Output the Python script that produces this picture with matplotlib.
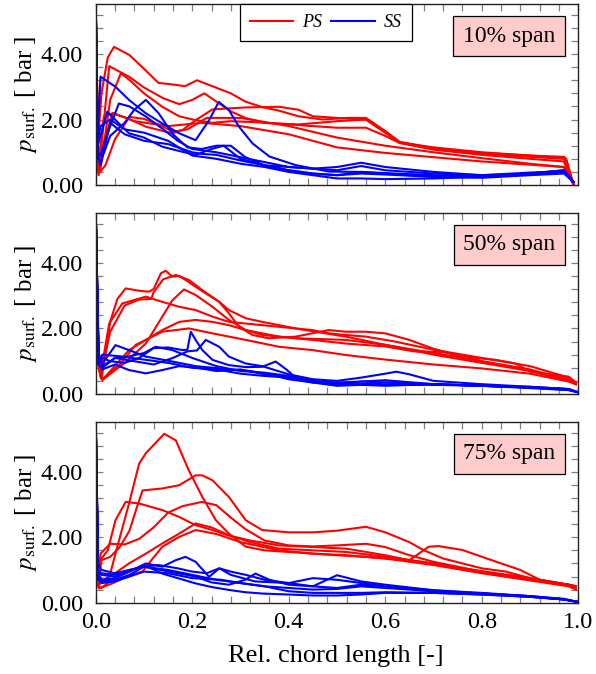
import matplotlib
matplotlib.use("Agg")
import matplotlib.pyplot as plt
from matplotlib.ticker import MultipleLocator
from matplotlib.lines import Line2D

plt.rcParams['font.family'] = ['Liberation Serif', 'DejaVu Serif']
plt.rcParams['mathtext.fontset'] = 'stix'

# ---------------- data ----------------
span_labels = ["10% span", "50% span", "75% span"]
series_names = ["PS", "SS"]
x_tick_labels = ["0.0", "0.2", "0.4", "0.6", "0.8", "1.0"]
y_tick_labels = ["0.00", "2.00", "4.00"]

# 10% span, pressure side
PS10_1 = ([0, 0.004, 0.012, 0.025, 0.038, 0.07, 0.1, 0.13, 0.16, 0.185, 0.21, 0.245, 0.28, 0.31, 0.345, 0.38, 0.42, 0.47, 0.52, 0.56, 0.6, 0.63, 0.7, 0.8, 0.9, 0.97, 0.975, 0.99],
          [5.6, 1.2, 2.8, 3.9, 4.22, 3.97, 3.55, 3.12, 3.07, 3.02, 3.2, 3.0, 2.8, 2.55, 2.38, 2.27, 2.1, 2.0, 2.05, 2.05, 1.65, 1.32, 1.12, 0.98, 0.9, 0.86, 0.8, 0.02])
PS10_2 = ([0, 0.005, 0.012, 0.028, 0.07, 0.1, 0.14, 0.173, 0.2, 0.225, 0.25, 0.28, 0.31, 0.35, 0.42, 0.5, 0.56, 0.6, 0.63, 0.7, 0.8, 0.9, 0.97, 0.975, 0.99],
          [5.6, 0.8, 1.2, 3.63, 3.3, 2.98, 2.65, 2.47, 2.6, 2.8, 2.55, 2.25, 2.05, 1.9, 1.85, 1.95, 2.0, 1.6, 1.3, 1.1, 0.95, 0.86, 0.8, 0.75, 0.02])
PS10_3 = ([0, 0.005, 0.01, 0.03, 0.052, 0.07, 0.1, 0.138, 0.173, 0.207, 0.242, 0.28, 0.33, 0.4, 0.45, 0.5, 0.56, 0.6, 0.63, 0.7, 0.8, 0.9, 0.97, 0.99],
          [5.6, 0.4, 0.5, 2.6, 3.41, 3.21, 2.8, 2.39, 2.1, 1.98, 1.9, 1.95, 1.92, 1.85, 1.8, 1.75, 1.75, 1.5, 1.28, 1.08, 0.92, 0.8, 0.72, 0.02])
PS10_4 = ([0, 0.005, 0.017, 0.035, 0.066, 0.104, 0.159, 0.18, 0.207, 0.242, 0.311, 0.38, 0.42, 0.45, 0.5, 0.56, 0.6, 0.63, 0.7, 0.8, 0.9, 0.97, 0.99],
          [5.6, 0.5, 2.09, 2.19, 2.04, 1.78, 1.58, 1.68, 1.98, 2.31, 2.37, 2.39, 2.3, 2.1, 2.05, 2.0, 1.6, 1.3, 1.15, 1.0, 0.9, 0.82, 0.02])
PS10_5 = ([0, 0.006, 0.012, 0.02, 0.04, 0.07, 0.1, 0.13, 0.16, 0.19, 0.23, 0.3, 0.4, 0.5, 0.6, 0.7, 0.8, 0.9, 0.97, 0.99],
          [5.6, 0.35, 0.45, 0.6, 1.4, 2.08, 2.02, 1.85, 1.63, 1.7, 2.05, 2.05, 1.8, 1.45, 1.2, 1.0, 0.82, 0.65, 0.55, 0.02])
PS10_6 = ([0, 0.006, 0.015, 0.035, 0.08, 0.15, 0.22, 0.3, 0.4, 0.5, 0.6, 0.7, 0.8, 0.9, 0.97, 0.99],
          [5.6, 0.3, 1.2, 2.2, 1.95, 1.8, 1.9, 1.8, 1.55, 1.15, 0.98, 0.85, 0.72, 0.62, 0.55, 0.02])

# 10% span, suction side
SS10_1 = ([0, 0.004, 0.01, 0.041, 0.069, 0.104, 0.138, 0.173, 0.207, 0.235, 0.255, 0.276, 0.297, 0.325, 0.36, 0.414, 0.483, 0.55, 0.62, 0.7, 0.8, 0.9, 0.97, 0.99],
          [5.6, 1.5, 3.31, 3.0, 2.6, 2.19, 1.88, 1.58, 1.37, 1.98, 2.54, 2.29, 1.78, 1.27, 0.87, 0.61, 0.41, 0.4, 0.35, 0.3, 0.28, 0.35, 0.4, 0.1])
SS10_2 = ([0, 0.004, 0.01, 0.03, 0.048, 0.07, 0.104, 0.14, 0.17, 0.2, 0.25, 0.3, 0.35, 0.4, 0.45, 0.5, 0.55, 0.6, 0.7, 0.8, 0.9, 0.97, 0.99],
          [5.6, 1.0, 0.9, 1.8, 2.49, 2.4, 2.09, 1.7, 1.35, 1.1, 1.0, 0.85, 0.7, 0.55, 0.5, 0.55, 0.68, 0.55, 0.4, 0.3, 0.35, 0.45, 0.1])
SS10_3 = ([0, 0.004, 0.01, 0.03, 0.06, 0.08, 0.104, 0.13, 0.16, 0.19, 0.22, 0.25, 0.28, 0.31, 0.35, 0.4, 0.45, 0.5, 0.55, 0.6, 0.7, 0.8, 0.9, 0.97, 0.99],
          [5.6, 0.8, 0.7, 1.5, 1.9, 2.3, 2.6, 2.2, 1.55, 1.15, 1.1, 1.2, 1.2, 0.85, 0.6, 0.45, 0.35, 0.3, 0.35, 0.32, 0.25, 0.28, 0.35, 0.4, 0.1])
SS10_4 = ([0, 0.004, 0.012, 0.024, 0.04, 0.069, 0.1, 0.138, 0.17, 0.207, 0.24, 0.265, 0.3, 0.35, 0.4, 0.45, 0.5, 0.55, 0.6, 0.7, 0.8, 0.9, 0.97, 0.99],
          [5.6, 1.2, 1.6, 2.24, 2.0, 1.58, 1.45, 1.17, 1.05, 0.92, 1.1, 1.2, 0.8, 0.6, 0.45, 0.35, 0.3, 0.4, 0.35, 0.25, 0.22, 0.3, 0.35, 0.1])
SS10_5 = ([0, 0.004, 0.01, 0.03, 0.06, 0.1, 0.15, 0.2, 0.25, 0.3, 0.35, 0.4, 0.45, 0.5, 0.55, 0.6, 0.7, 0.8, 0.9, 0.97, 0.99],
          [5.6, 1.3, 1.8, 2.0, 1.7, 1.6, 1.35, 0.9, 0.8, 0.65, 0.55, 0.4, 0.3, 0.2, 0.2, 0.18, 0.2, 0.25, 0.35, 0.45, 0.1])
SS10_6 = ([0, 0.004, 0.01, 0.03, 0.06, 0.1, 0.15, 0.2, 0.22, 0.25, 0.3, 0.35, 0.4, 0.5, 0.55, 0.6, 0.7, 0.8, 0.9, 0.97, 0.99],
          [5.6, 1.0, 0.6, 1.9, 1.55, 1.35, 1.25, 1.0, 0.95, 0.92, 0.75, 0.6, 0.55, 0.45, 0.58, 0.45, 0.35, 0.3, 0.38, 0.42, 0.1])

# 50% span, pressure side
PS50_1 = ([0, 0.006, 0.012, 0.03, 0.045, 0.062, 0.09, 0.11, 0.12, 0.135, 0.145, 0.159, 0.173, 0.186, 0.207, 0.228, 0.256, 0.276, 0.311, 0.345, 0.38, 0.414, 0.449, 0.483, 0.518, 0.56, 0.62, 0.7, 0.8, 0.9, 0.98, 0.995],
          [5.6, 0.8, 0.45, 2.2, 2.9, 3.22, 3.15, 3.12, 3.2, 3.68, 3.76, 3.58, 3.6, 3.48, 3.27, 3.07, 2.81, 2.56, 2.31, 2.2, 2.1, 2.0, 1.95, 1.85, 1.8, 1.75, 1.6, 1.35, 1.1, 0.85, 0.5, 0.35])
PS50_2 = ([0, 0.006, 0.01, 0.03, 0.06, 0.09, 0.115, 0.12, 0.14, 0.166, 0.193, 0.221, 0.256, 0.276, 0.297, 0.325, 0.359, 0.414, 0.483, 0.518, 0.56, 0.6, 0.65, 0.7, 0.76, 0.83, 0.87, 0.9, 0.98, 0.995],
          [5.6, 0.9, 0.5, 1.9, 2.7, 2.88, 2.9, 3.1, 3.5, 3.63, 3.48, 3.17, 2.81, 2.46, 2.05, 1.8, 1.7, 1.75, 1.95, 1.9, 1.9, 1.85, 1.65, 1.38, 1.14, 1.04, 0.93, 0.68, 0.53, 0.35])
PS50_3 = ([0, 0.006, 0.014, 0.06, 0.104, 0.138, 0.159, 0.183, 0.207, 0.242, 0.276, 0.311, 0.345, 0.38, 0.449, 0.518, 0.6, 0.66, 0.72, 0.8, 0.9, 0.98, 0.995],
          [5.6, 1.0, 0.43, 0.95, 1.54, 2.36, 2.86, 3.19, 3.02, 2.66, 2.26, 1.95, 1.85, 1.75, 1.65, 1.54, 1.45, 1.3, 1.28, 1.0, 0.72, 0.45, 0.3])
PS50_4 = ([0, 0.006, 0.01, 0.028, 0.055, 0.104, 0.138, 0.173, 0.207, 0.242, 0.276, 0.345, 0.414, 0.518, 0.6, 0.7, 0.8, 0.9, 0.98, 0.995],
          [5.6, 1.0, 0.6, 2.15, 2.76, 2.97, 2.81, 2.66, 2.56, 2.36, 2.2, 2.1, 2.0, 1.75, 1.5, 1.25, 1.0, 0.75, 0.42, 0.3])
PS50_5 = ([0, 0.006, 0.014, 0.069, 0.104, 0.138, 0.173, 0.207, 0.242, 0.276, 0.345, 0.414, 0.518, 0.6, 0.7, 0.8, 0.9, 0.98, 0.995],
          [5.6, 0.9, 0.43, 1.34, 1.65, 1.95, 2.2, 2.26, 2.2, 2.1, 1.8, 1.7, 1.65, 1.5, 1.2, 0.95, 0.7, 0.4, 0.3])
PS50_6 = ([0, 0.006, 0.014, 0.05, 0.083, 0.138, 0.193, 0.242, 0.311, 0.38, 0.449, 0.518, 0.6, 0.7, 0.8, 0.9, 0.98, 0.995],
          [5.6, 0.9, 0.45, 0.9, 1.5, 1.9, 2.0, 1.85, 1.65, 1.44, 1.34, 1.19, 1.05, 0.9, 0.78, 0.62, 0.38, 0.3])

# 50% span, suction side
SS50_1 = ([0, 0.006, 0.014, 0.03, 0.06, 0.09, 0.12, 0.15, 0.18, 0.19, 0.197, 0.207, 0.221, 0.242, 0.276, 0.311, 0.345, 0.373, 0.395, 0.414, 0.449, 0.5, 0.55, 0.6, 0.7, 0.8, 0.9, 0.98, 1.0],
          [5.6, 1.0, 1.1, 1.0, 0.95, 1.1, 1.4, 1.42, 1.34, 1.35, 1.9, 1.65, 1.34, 1.04, 0.88, 0.82, 0.83, 0.99, 0.75, 0.5, 0.4, 0.35, 0.38, 0.42, 0.3, 0.25, 0.22, 0.15, 0.05])
SS50_2 = ([0, 0.006, 0.014, 0.04, 0.08, 0.12, 0.16, 0.19, 0.21, 0.228, 0.256, 0.276, 0.311, 0.345, 0.4, 0.45, 0.5, 0.55, 0.6, 0.623, 0.65, 0.7, 0.8, 0.9, 0.98, 1.0],
          [5.6, 0.9, 0.8, 1.1, 1.0, 0.9, 1.1, 1.3, 1.33, 1.65, 1.44, 1.14, 0.93, 0.85, 0.6, 0.45, 0.4, 0.5, 0.62, 0.68, 0.6, 0.4, 0.3, 0.22, 0.15, 0.05])
SS50_3 = ([0, 0.006, 0.014, 0.041, 0.069, 0.104, 0.138, 0.173, 0.207, 0.242, 0.28, 0.32, 0.36, 0.4, 0.45, 0.5, 0.55, 0.6, 0.7, 0.8, 0.9, 0.98, 1.0],
          [5.6, 1.2, 0.93, 1.49, 1.34, 1.14, 1.05, 0.95, 0.85, 0.8, 0.75, 0.7, 0.6, 0.45, 0.35, 0.3, 0.38, 0.35, 0.3, 0.25, 0.2, 0.15, 0.05])
SS50_4 = ([0, 0.006, 0.014, 0.04, 0.07, 0.1, 0.124, 0.159, 0.2, 0.25, 0.3, 0.35, 0.4, 0.45, 0.5, 0.55, 0.6, 0.7, 0.8, 0.9, 0.98, 1.0],
          [5.6, 1.1, 0.85, 1.1, 1.15, 1.25, 1.44, 1.34, 1.1, 0.85, 0.7, 0.65, 0.55, 0.4, 0.3, 0.3, 0.35, 0.3, 0.25, 0.18, 0.12, 0.05])
SS50_5 = ([0, 0.006, 0.014, 0.04, 0.069, 0.104, 0.138, 0.173, 0.21, 0.25, 0.3, 0.35, 0.4, 0.45, 0.5, 0.55, 0.6, 0.7, 0.8, 0.9, 0.98, 1.0],
          [5.6, 0.9, 0.75, 0.9, 0.73, 0.63, 0.73, 0.85, 0.8, 0.7, 0.75, 0.6, 0.5, 0.35, 0.25, 0.28, 0.25, 0.3, 0.25, 0.2, 0.12, 0.05])
SS50_6 = ([0, 0.006, 0.014, 0.05, 0.1, 0.15, 0.2, 0.25, 0.3, 0.35, 0.4, 0.45, 0.5, 0.6, 0.7, 0.8, 0.9, 0.98, 1.0],
          [5.6, 1.0, 1.2, 1.15, 1.05, 0.95, 0.8, 0.75, 0.62, 0.55, 0.5, 0.4, 0.3, 0.28, 0.28, 0.25, 0.2, 0.14, 0.05])

# 75% span, pressure side
PS75_1 = ([0, 0.005, 0.012, 0.025, 0.041, 0.069, 0.09, 0.104, 0.124, 0.142, 0.166, 0.193, 0.221, 0.249, 0.276, 0.311, 0.35, 0.4, 0.45, 0.5, 0.56, 0.6, 0.65, 0.7, 0.76, 0.83, 0.88, 0.92, 0.98, 0.995],
          [5.6, 0.5, 0.45, 0.6, 1.5, 3.03, 4.25, 4.57, 4.88, 5.16, 4.96, 4.04, 3.23, 2.52, 2.11, 1.71, 1.6, 1.55, 1.5, 1.45, 1.4, 1.35, 1.3, 1.2, 1.05, 0.9, 0.8, 0.7, 0.55, 0.5])
PS75_2 = ([0, 0.005, 0.012, 0.03, 0.05, 0.07, 0.085, 0.097, 0.138, 0.173, 0.207, 0.221, 0.242, 0.276, 0.311, 0.345, 0.4, 0.45, 0.5, 0.56, 0.6, 0.65, 0.68, 0.72, 0.76, 0.8, 0.85, 0.9, 0.98, 0.995],
          [5.6, 0.6, 1.3, 1.4, 1.7, 2.2, 2.9, 3.43, 3.49, 3.59, 3.89, 3.89, 3.74, 3.23, 2.52, 2.22, 2.15, 2.15, 2.2, 2.32, 2.15, 1.85, 1.6, 1.35, 1.2, 1.05, 0.95, 0.75, 0.55, 0.5])
PS75_3 = ([0, 0.005, 0.012, 0.025, 0.041, 0.062, 0.09, 0.138, 0.173, 0.207, 0.242, 0.276, 0.32, 0.38, 0.45, 0.52, 0.6, 0.65, 0.69, 0.71, 0.76, 0.83, 0.88, 0.92, 0.98, 0.995],
          [5.6, 0.8, 1.35, 1.6, 2.52, 3.08, 3.03, 2.83, 2.62, 2.37, 2.22, 2.05, 1.9, 1.75, 1.7, 1.65, 1.45, 1.3, 1.71, 1.73, 1.61, 1.25, 1.0, 0.7, 0.55, 0.5])
PS75_4 = ([0, 0.005, 0.01, 0.03, 0.06, 0.09, 0.12, 0.15, 0.18, 0.22, 0.25, 0.28, 0.31, 0.35, 0.4, 0.45, 0.5, 0.56, 0.6, 0.65, 0.7, 0.8, 0.9, 0.98, 0.995],
          [5.6, 0.7, 1.5, 1.8, 1.78, 1.95, 2.3, 2.75, 2.95, 3.08, 2.98, 2.6, 2.25, 1.9, 1.75, 1.72, 1.75, 1.8, 1.7, 1.45, 1.25, 0.95, 0.7, 0.55, 0.5])
PS75_5 = ([0, 0.005, 0.014, 0.04, 0.069, 0.104, 0.138, 0.173, 0.207, 0.24, 0.276, 0.32, 0.38, 0.45, 0.52, 0.6, 0.7, 0.8, 0.9, 0.98, 0.995],
          [5.6, 0.5, 0.69, 0.9, 1.2, 1.5, 1.81, 2.11, 2.42, 2.3, 2.06, 1.85, 1.65, 1.6, 1.55, 1.4, 1.2, 0.95, 0.72, 0.52, 0.45])
PS75_6 = ([0, 0.005, 0.007, 0.035, 0.069, 0.097, 0.11, 0.138, 0.173, 0.207, 0.25, 0.3, 0.38, 0.45, 0.52, 0.6, 0.7, 0.8, 0.9, 0.98, 0.995],
          [5.6, 0.5, 0.44, 0.59, 0.84, 0.95, 1.2, 1.71, 2.01, 2.22, 2.1, 1.85, 1.6, 1.5, 1.45, 1.35, 1.15, 0.9, 0.68, 0.5, 0.4])

# 75% span, suction side
SS75_1 = ([0, 0.005, 0.012, 0.04, 0.07, 0.104, 0.138, 0.166, 0.186, 0.207, 0.235, 0.256, 0.28, 0.311, 0.35, 0.4, 0.45, 0.5, 0.55, 0.6, 0.7, 0.8, 0.9, 0.97, 1.0],
          [5.6, 1.0, 0.85, 0.8, 0.95, 1.2, 1.1, 1.3, 1.4, 1.25, 0.79, 1.05, 0.95, 0.85, 0.7, 0.6, 0.5, 0.45, 0.55, 0.5, 0.35, 0.28, 0.2, 0.12, 0.02])
SS75_2 = ([0, 0.005, 0.012, 0.04, 0.07, 0.1, 0.138, 0.17, 0.207, 0.24, 0.276, 0.31, 0.345, 0.4, 0.45, 0.5, 0.55, 0.6, 0.7, 0.8, 0.9, 0.97, 1.0],
          [5.6, 0.9, 0.7, 0.75, 0.95, 1.15, 0.89, 0.75, 0.59, 0.48, 0.39, 0.32, 0.28, 0.25, 0.22, 0.22, 0.25, 0.3, 0.3, 0.25, 0.18, 0.1, 0.02])
SS75_3 = ([0, 0.005, 0.012, 0.04, 0.07, 0.1, 0.138, 0.17, 0.207, 0.24, 0.276, 0.31, 0.331, 0.36, 0.4, 0.45, 0.5, 0.55, 0.6, 0.7, 0.8, 0.9, 0.97, 1.0],
          [5.6, 1.0, 0.9, 0.85, 1.0, 1.1, 0.99, 0.9, 0.8, 0.62, 0.55, 0.7, 0.89, 0.7, 0.55, 0.5, 0.84, 0.65, 0.55, 0.38, 0.28, 0.18, 0.1, 0.02])
SS75_4 = ([0, 0.005, 0.012, 0.04, 0.07, 0.1, 0.13, 0.17, 0.2, 0.23, 0.256, 0.28, 0.33, 0.4, 0.45, 0.5, 0.55, 0.6, 0.7, 0.8, 0.9, 0.97, 1.0],
          [5.6, 0.8, 0.65, 0.7, 0.85, 1.1, 1.15, 1.05, 0.95, 0.9, 1.05, 0.85, 0.65, 0.6, 0.75, 0.7, 0.6, 0.5, 0.38, 0.3, 0.2, 0.1, 0.02])
SS75_5 = ([0, 0.005, 0.012, 0.04, 0.07, 0.1, 0.15, 0.2, 0.25, 0.3, 0.35, 0.4, 0.45, 0.5, 0.55, 0.6, 0.7, 0.8, 0.9, 0.97, 1.0],
          [5.6, 1.2, 1.0, 0.9, 1.0, 1.1, 1.0, 0.85, 0.7, 0.6, 0.5, 0.45, 0.4, 0.42, 0.5, 0.45, 0.35, 0.28, 0.2, 0.1, 0.02])
SS75_6 = ([0, 0.005, 0.012, 0.04, 0.07, 0.1, 0.15, 0.2, 0.26, 0.3, 0.35, 0.4, 0.45, 0.5, 0.55, 0.6, 0.7, 0.8, 0.9, 0.97, 1.0],
          [5.6, 0.7, 0.6, 0.65, 0.8, 0.95, 0.9, 0.75, 0.7, 0.6, 0.5, 0.35, 0.3, 0.3, 0.3, 0.32, 0.3, 0.25, 0.18, 0.1, 0.02])

panel_ps = [[PS10_1, PS10_2, PS10_3, PS10_4, PS10_5, PS10_6],
            [PS50_1, PS50_2, PS50_3, PS50_4, PS50_5, PS50_6],
            [PS75_1, PS75_2, PS75_3, PS75_4, PS75_5, PS75_6]]
panel_ss = [[SS10_1, SS10_2, SS10_3, SS10_4, SS10_5, SS10_6],
            [SS50_1, SS50_2, SS50_3, SS50_4, SS50_5, SS50_6],
            [SS75_1, SS75_2, SS75_3, SS75_4, SS75_5, SS75_6]]

# ---------------- figure ----------------
W, H = 596, 674
fig = plt.figure(figsize=(W / 100, H / 100), dpi=100)

left = 95.7 / W
width = (578.3 - 95.7) / W
panel_px = [(4, 185), (212.7, 394), (421.7, 602.7)]

RED = '#ff0000'
BLUE = '#0000ff'
TICKC = '#808080'
LW = 1.5

axes = []
for i, (top, bot) in enumerate(panel_px):
    ax = fig.add_axes([left, 1 - bot / H, width, (bot - top) / H])
    axes.append(ax)
    for xs, ys in panel_ps[i]:
        ax.plot(xs, ys, color=RED, lw=LW, solid_joinstyle='round')
    for xs, ys in panel_ss[i]:
        ax.plot(xs, ys, color=BLUE, lw=LW, solid_joinstyle='round')

    ax.set_xlim(0, 1)
    ax.set_ylim(0, 5.53)
    ax.set_yticks([0, 2, 4])
    ax.set_yticklabels(y_tick_labels)
    ax.yaxis.set_minor_locator(MultipleLocator(0.4))
    ax.set_xticks([0, 0.2, 0.4, 0.6, 0.8, 1.0])
    ax.xaxis.set_minor_locator(MultipleLocator(0.04))
    ax.tick_params(which='both', direction='in', top=True, right=True,
                   color=TICKC, length=5, width=0.9)
    ax.tick_params(axis='y', labelsize=17.5, pad=9)
    ax.tick_params(axis='x', labelsize=17.5, pad=7)
    if i < 2:
        ax.set_xticklabels([])
    else:
        ax.set_xticklabels(x_tick_labels)
    for s in ax.spines.values():
        s.set_linewidth(1.0)
        s.set_color('#222222')

    ax.set_ylabel(r'$p_{\mathrm{surf.}}$ [ bar ]', fontsize=18)
    ax.yaxis.set_label_coords(-0.118, 0.5)

    ax.text(0.952, 0.88, span_labels[i], transform=ax.transAxes,
            ha='right', va='top', fontsize=17,
            bbox=dict(boxstyle='square,pad=0.4', fc='#ffcccc', ec='black', lw=0.9))

axes[2].set_xlabel('Rel. chord length [-]', fontsize=19)
axes[2].xaxis.set_label_coords(0.497, -0.235)

handles = [Line2D([], [], color=RED, lw=LW), Line2D([], [], color=BLUE, lw=LW)]
leg = axes[0].legend(handles, series_names, ncol=2, loc='upper left',
                     bbox_to_anchor=(0.299, 1.0), borderaxespad=0,
                     fancybox=False, framealpha=1, edgecolor='black',
                     prop={'style': 'italic', 'size': 13},
                     handlelength=2.4, handletextpad=0.5, columnspacing=0.5,
                     borderpad=0.55)
leg.get_frame().set_linewidth(0.9)

fig.savefig('out.png', dpi=100)
